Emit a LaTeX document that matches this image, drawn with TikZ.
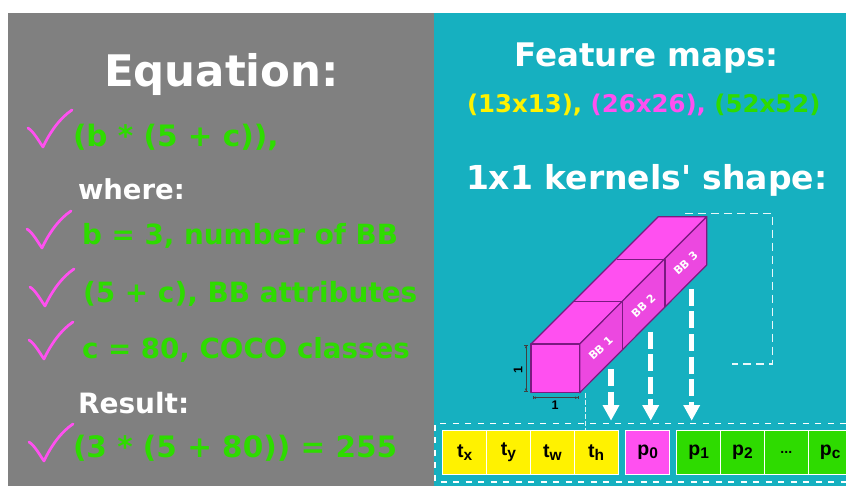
\documentclass[tikz,border=0pt]{standalone}
\usepackage{fontspec}
\setmainfont{DejaVu Sans}
\newfontfamily\cellfont{Liberation Sans}
\newfontfamily\plainfont{DejaVu Sans}
\usetikzlibrary{arrows.meta}
\definecolor{panelgray}{HTML}{808080}
\definecolor{panelteal}{HTML}{16B0C0}
\definecolor{ylw}{HTML}{FFF200}
\definecolor{mgt}{HTML}{FF50F0}
\definecolor{mgtside}{HTML}{EC48E0}
\definecolor{grn}{HTML}{2EDB00}
\definecolor{edgepurple}{HTML}{7A1A80}
\newcommand{\cellsub}[2]{{\fontsize{19.5}{22}\selectfont #1}\raisebox{-3pt}{\fontsize{15.5}{18}\selectfont #2}}
\tikzset{
  txt/.style={anchor=base west,inner sep=0pt,outer sep=0pt,font=\bfseries\fontsize{#1}{#1}\selectfont},
  cell/.style={draw=white,line width=0.9pt,fill=#1,inner sep=0pt,outer sep=0pt,minimum height=44pt,minimum width=43.8pt,anchor=west,text=black,font=\cellfont\bfseries},
  wdash/.style={draw=white,line width=1.6pt,dash pattern=on 6pt off 6.5pt},
  gdash/.style={draw=white!90!panelteal,line width=1.5pt,dash pattern=on 8pt off 5pt},
  bigarrow/.style={draw=white,line width=5.5pt,dash pattern=on 17pt off 5.5pt,-{Triangle[width=15.7pt,length=15.5pt]}},
  bbl/.style={text=white,font=\bfseries\fontsize{11}{11}\selectfont,rotate=43,inner sep=0pt},
  face/.style={draw=edgepurple,line width=1.2pt,line join=round},
  dim/.style={draw=black!75,line width=0.6pt,{Bar[width=3.5pt]Latex[length=2.5pt,width=2.5pt]}-{Latex[length=2.5pt,width=2.5pt]Bar[width=3.5pt]}},
  chk/.pic={\draw[mgt,line width=2.7pt,line cap=round,line join=round] (-15,-19) .. controls (-9,-15) and (-5,-7) .. (0,0) .. controls (7,-15) and (17,-29) .. (29,-37);}
}
\begin{document}
\begin{tikzpicture}[x=1pt,y=-1pt]
\useasboundingbox (0,0) rectangle (846,486);
\fill[white] (0,0) rectangle (846,486);
\fill[panelgray] (8,13) rectangle (434,486);
\fill[panelteal] (434,13) rectangle (846,486);
% left panel
\node[txt=43.5,text=white] (eqt) at (104,87) {Equation:};
\node[txt=29.5,text=grn] (l1) at (73,147) {(b * (5 + c)),};
\node[txt=27.5,text=white] (wh) at (78,200) {where:};
\node[txt=27.8,text=grn] (l2) at (82,245) {b = 3, number of BB};
\node[txt=27.9,text=grn] (l3) at (83,303) {(5 + c), BB attributes};
\node[txt=27.7,text=grn] (l4) at (82,358) {c = 80, COCO classes};
\node[txt=28,text=white] (rs) at (78,413) {Result:};
\node[txt=29.5,text=grn] (l5) at (73,457) {(3 * (5 + 80)) = 255};
\pic at (43,147) {chk};
\pic at (42,248) {chk};
\pic at (45,306) {chk};
\pic at (44,359) {chk};
\pic at (44,461) {chk};
% right headings
\node[txt=32.5,text=white] (fm) at (514.5,67) {Feature maps:};
\node[txt=24.4,text=ylw] (sz) at (467,113) {(13x13), \textcolor{mgt}{(26x26),} \textcolor{grn}{(52x52)}};
\node[txt=33,text=white] (ks) at (466,190) {1x1 kernels{\plainfont\bfseries '} shape:};
% dashed guides
\coordinate (ga) at (685,213.3);\coordinate (gb) at (772.7,213.3);\coordinate (gc) at (772.7,364);\coordinate (gd) at (732.3,364);
\draw[gdash] (ga) -- (gb) -- (gc) -- (gd);
% solid
\filldraw[face,fill=mgt] (531,344) -- (658.3,216.7) -- (706.7,216.7) -- (579.7,344) -- cycle;
\filldraw[face,fill=mgtside] (579.7,344) -- (706.7,216.7) -- (706.7,265) -- (579.7,392.7) -- cycle;
\filldraw[face,fill=mgt] (531,344) rectangle (579.7,392.7);
\draw[face,line width=1.4pt] (574.3,301.7) -- (622.3,301.7) -- (622.3,349);
\draw[face,line width=1.4pt] (616.7,259.3) -- (665,259.3) -- (665,306.7);
\node[bbl] (bb1) at (600.7,348.3) {BB 1};
\node[bbl] (bb2) at (643.3,305.7) {BB 2};
\node[bbl] (bb3) at (685.7,263.3) {BB 3};
\coordinate (da) at (526,345);\coordinate (db) at (526,391.7);
\coordinate (dc) at (532.7,397.7);\coordinate (dd) at (578.3,397.7);
\draw[dim] (da) -- (db);
\draw[dim] (dc) -- (dd);
\node[font=\cellfont\bfseries\fontsize{12.5}{13}\selectfont,rotate=90,inner sep=0pt] (one1) at (518,370) {1};
\node[font=\cellfont\bfseries\fontsize{12.5}{13}\selectfont,inner sep=0pt] (one2) at (555,405) {1};
% output vector
\draw[wdash] (846,423.3) -- (435,423.3) -- (435,481.7) -- (846,481.7);
\coordinate (va) at (585.3,392.7);\coordinate (vb) at (585.3,430);
\draw[white!85!panelteal,line width=0.9pt,dash pattern=on 5pt off 2pt] (va) -- (vb);
\node[cell=ylw] (tx) at (442.8,452.3) {\cellsub{t}{x}};
\node[cell=ylw] (ty) at (486.6,452.3) {\cellsub{t}{y}};
\node[cell=ylw] (tw) at (530.4,452.3) {\cellsub{t}{w}};
\node[cell=ylw] (th) at (574.2,452.3) {\cellsub{t}{h}};
\node[cell=mgt] (p0) at (625.7,452.3) {\cellsub{p}{0}};
\node[cell=grn] (p1) at (676.7,452.3) {\cellsub{p}{1}};
\node[cell=grn] (p2) at (720.6,452.3) {\cellsub{p}{2}};
\node[cell=grn] (pd) at (764.4,452.3) {\fontsize{14}{14}\selectfont ...};
\node[cell=grn] (pc) at (808.2,452.3) {\cellsub{p}{c}};
% arrows
\coordinate (a1s) at (611,369);\coordinate (a1e) at (611,420.7);
\coordinate (a2s) at (650.7,331.7);\coordinate (a2e) at (650.7,420.7);
\coordinate (a3s) at (691.7,289);\coordinate (a3e) at (691.7,420.7);
\draw[bigarrow] (a1s) -- (a1e);
\draw[bigarrow] (a2s) -- (a2e);
\draw[bigarrow] (a3s) -- (a3e);
\end{tikzpicture}
\end{document}
